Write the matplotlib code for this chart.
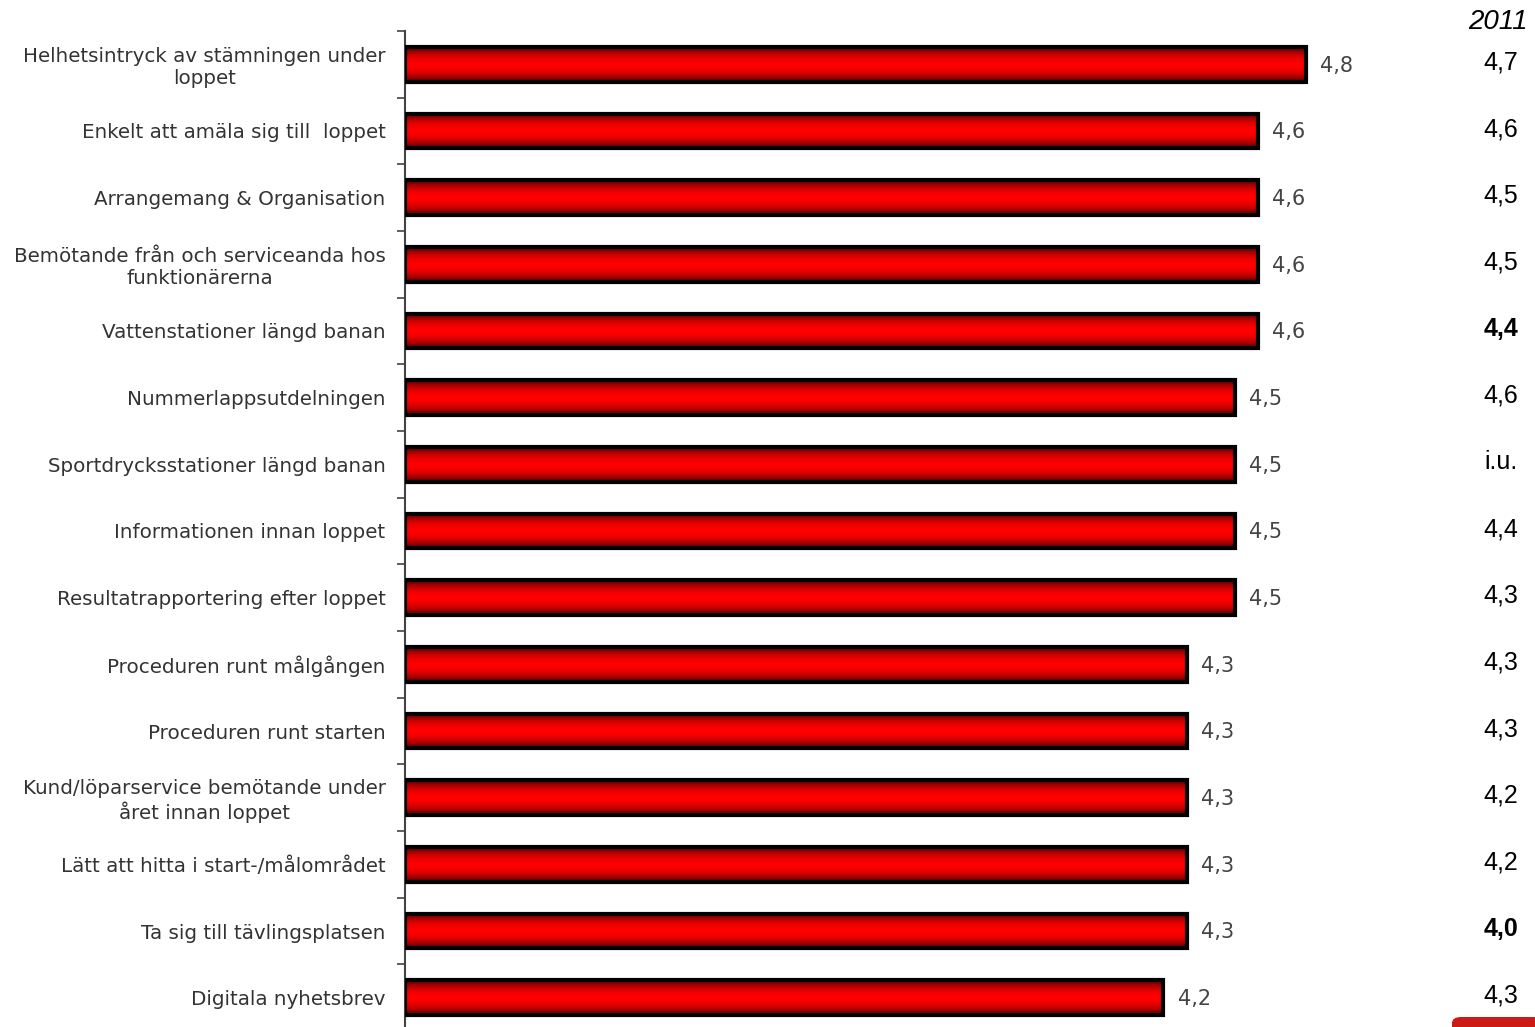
import matplotlib
matplotlib.use('Agg')
import matplotlib.pyplot as plt
import matplotlib.transforms as mtransforms
from matplotlib.patches import FancyBboxPatch
import numpy as np

# survey items and mean scores (2012) plus the 2011 column on the right
categories = [
    'Helhetsintryck av stämningen under\nloppet',
    'Enkelt att amäla sig till  loppet',
    'Arrangemang & Organisation',
    'Bemötande från och serviceanda hos\nfunktionärerna',
    'Vattenstationer längd banan',
    'Nummerlappsutdelningen',
    'Sportdrycksstationer längd banan',
    'Informationen innan loppet',
    'Resultatrapportering efter loppet',
    'Proceduren runt målgången',
    'Proceduren runt starten',
    'Kund/löparservice bemötande under\nåret innan loppet',
    'Lätt att hitta i start-/målområdet',
    'Ta sig till tävlingsplatsen',
    'Digitala nyhetsbrev',
]
scores = [4.8, 4.6, 4.6, 4.6, 4.6, 4.5, 4.5, 4.5, 4.5, 4.3, 4.3, 4.3, 4.3, 4.3, 4.2]
values_2011 = ['4,7', '4,6', '4,5', '4,5', '4,4', '4,6', 'i.u.', '4,4', '4,3',
               '4,3', '4,3', '4,2', '4,2', '4,0', '4,3']
bold_2011 = [False, False, False, False, True, False, False, False, False,
             False, False, False, False, True, False]

fig = plt.figure(figsize=(15.35, 10.27), dpi=100)
W, H = 1535, 1027
ax = fig.add_axes([405 / W, (H - 1031) / H, (1353 - 405) / W, 1000 / H])

y = np.arange(len(categories))
base = 1.0
bars = ax.barh(y, [s - base for s in scores], left=base, height=0.52,
               color='none', edgecolor='black', linewidth=3, zorder=3)

# vertical gradient dark red -> bright red -> dark red inside every bar
t = np.linspace(0, 1, 64)
r = 0.2 + 0.8 * np.sin(np.pi * t) ** 0.7
grad = np.zeros((64, 2, 3))
grad[:, :, 0] = r[:, None]
for b in bars:
    x0, y0 = b.get_x(), b.get_y()
    im = ax.imshow(grad, extent=[x0, x0 + b.get_width(), y0, y0 + b.get_height()],
                   aspect='auto', zorder=2, interpolation='bilinear')
    im.set_clip_path(b)

for i, s in enumerate(scores):
    ax.text(s + 0.06, i + 0.02, f'{s:.1f}'.replace('.', ','), va='center', ha='left',
            fontsize=15, color='#444444', clip_on=False)

ax.set_xlim(1, 5)
ax.set_ylim(len(categories) - 0.5, -0.5)

ax.set_yticks(y)
ax.set_yticklabels(categories, fontsize=14.3, color='#333333', multialignment='center')
ax.set_yticks(np.arange(len(categories)) - 0.5, minor=True)
ax.tick_params(axis='y', which='major', length=0, pad=14)
ax.tick_params(axis='y', which='minor', length=6, width=1.2, color='#444444')
ax.set_xticks([])
for side in ['top', 'right', 'bottom']:
    ax.spines[side].set_visible(False)
ax.spines['left'].set_color('#444444')
ax.spines['left'].set_linewidth(1.5)

# 2011 comparison column
trans = mtransforms.blended_transform_factory(fig.transFigure, ax.transData)
fig.text(1498 / W, 1 - 22 / H, '2011', ha='center', va='center', fontsize=20,
         style='italic', family='Liberation Sans')
for i, v in enumerate(values_2011):
    ax.text(1501 / W, i - 0.03, v, transform=trans, ha='center', va='center',
            fontsize=18, family='Liberation Sans',
            fontweight='bold' if bold_2011[i] else 'normal', clip_on=False)

# corner of the logo peeking in at the bottom right
fig.patches.append(FancyBboxPatch((1452 / W, -20 / H), 90 / W, 30 / H,
                                  boxstyle='round,pad=0,rounding_size=0.006',
                                  transform=fig.transFigure, facecolor='#cc1a14',
                                  edgecolor='none'))

fig.savefig('out.png', dpi=100)
